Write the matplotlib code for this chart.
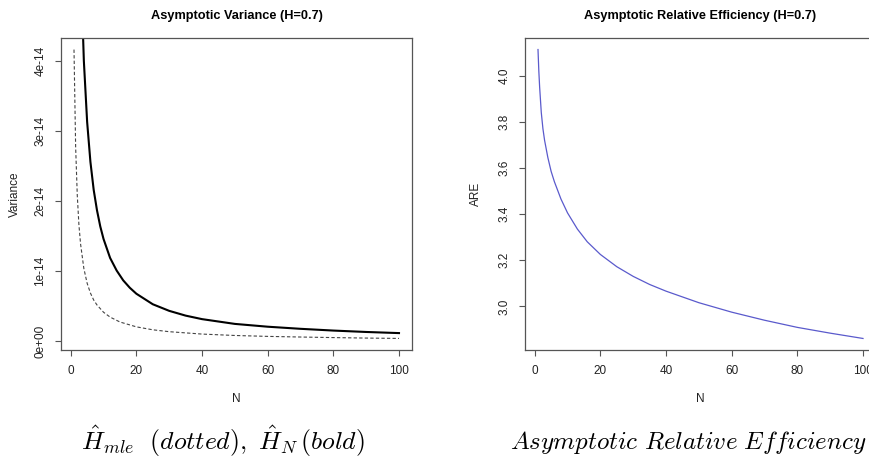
import matplotlib
matplotlib.use("Agg")
import matplotlib.pyplot as plt

plt.rcParams['font.family'] = ['Liberation Sans', 'DejaVu Sans']
plt.rcParams['mathtext.fontset'] = 'cm'

# ---- data ----
# bold curve: asymptotic variance of H_N (units 1e-14)
n_bold = [1, 2, 3, 4, 5, 6, 7, 8, 9, 10, 12, 14, 16, 18, 20, 25, 30, 35, 40, 50, 60, 70, 80, 90, 100]
var_bold = [17.1, 8.4, 5.45, 4.0, 3.13, 2.56, 2.16, 1.87, 1.64, 1.46, 1.19, 1.01, 0.87, 0.765, 0.68, 0.53,
            0.436, 0.368, 0.318, 0.25, 0.21, 0.18, 0.155, 0.135, 0.119]
# dotted curve: asymptotic variance of H_mle (units 1e-14)
n_mle = [1, 1.5, 2, 2.5, 3, 4, 5, 6, 7, 8, 10, 12, 15, 20, 25, 30, 40, 50, 60, 70, 80, 90, 100]
var_mle = [4.16, 2.77, 2.08, 1.66, 1.39, 1.04, 0.83, 0.69, 0.59, 0.52, 0.416, 0.347, 0.277, 0.208, 0.166,
           0.139, 0.105, 0.085, 0.072, 0.063, 0.055, 0.048, 0.043]
# asymptotic relative efficiency
n_are = [1, 1.25, 1.5, 2, 2.5, 3, 4, 5, 6, 8, 10, 13, 16, 20, 25, 30, 35, 40, 50, 60, 70, 80, 90, 100]
are = [4.113, 4.02, 3.95, 3.84, 3.77, 3.72, 3.645, 3.585, 3.54, 3.465, 3.405, 3.335, 3.28, 3.225, 3.172,
       3.13, 3.095, 3.066, 3.016, 2.975, 2.94, 2.909, 2.884, 2.861]

xticks = [0, 20, 40, 60, 80, 100]
var_ticks = [0, 1, 2, 3, 4]
var_ticklabels = ['0e+00', '1e-14', '2e-14', '3e-14', '4e-14']
are_ticks = [3.0, 3.2, 3.4, 3.6, 3.8, 4.0]
are_ticklabels = ['3.0', '3.2', '3.4', '3.6', '3.8', '4.0']

W, H = 869, 461
fig = plt.figure(figsize=(W / 100, H / 100), dpi=100)

def px(x0, y0, x1, y1):
    return [x0 / W, 1 - y1 / H, (x1 - x0) / W, (y1 - y0) / H]

ax1 = fig.add_axes(px(61, 38, 412, 350))
ax2 = fig.add_axes(px(525, 38, 876, 350))

spine_c = '#555555'
txt_c = '#222222'
for ax in (ax1, ax2):
    for s in ax.spines.values():
        s.set_color(spine_c)
        s.set_linewidth(0.9)
    ax.tick_params(direction='out', length=4.5, width=0.8, color=spine_c, labelsize=8.5,
                   labelcolor=txt_c, pad=6)
    ax.set_xlim(-2.96, 103.96)
    ax.set_xticks(xticks)
    ax.set_xticklabels([str(t) for t in xticks])
    ax.set_xlabel('N', fontsize=8.5, labelpad=12, color=txt_c)

# left panel
ax1.plot(n_bold, var_bold, color='black', lw=1.5)
ax1.plot(n_mle, var_mle, color='#444444', lw=0.8, dashes=(3, 2))
ax1.set_ylim(-0.122, 4.325)
ax1.set_yticks(var_ticks)
ax1.set_yticklabels(var_ticklabels, rotation=90, va='center')
ax1.set_ylabel('Variance', fontsize=8.5, labelpad=10, color=txt_c)
ax1.set_title('Asymptotic Variance (H=0.7)', fontsize=9.2, fontweight='bold', pad=14)

# right panel
ax2.plot(n_are, are, color='#5a5acc', lw=0.9)
ax2.set_ylim(2.811, 4.163)
ax2.set_yticks(are_ticks)
ax2.set_yticklabels(are_ticklabels, rotation=90, va='center')
ax2.set_ylabel('ARE', fontsize=8.5, labelpad=12, color=txt_c)
ax2.set_title('Asymptotic Relative Efficiency (H=0.7)', fontsize=9.2, fontweight='bold', pad=14)

# captions
fig.text(223 / W, 1 - 441 / H,
         r'$\hat{H}_{mle}\ \ \mathit{(dotted)},\ \hat{H}_N\,\mathit{(bold)}$',
         ha='center', va='center', fontsize=18.5)
fig.text(688 / W, 1 - 442 / H, r'$\mathit{Asymptotic\ Relative\ Efficiency}$',
         ha='center', va='center', fontsize=18)

fig.savefig('out.png', dpi=100)
